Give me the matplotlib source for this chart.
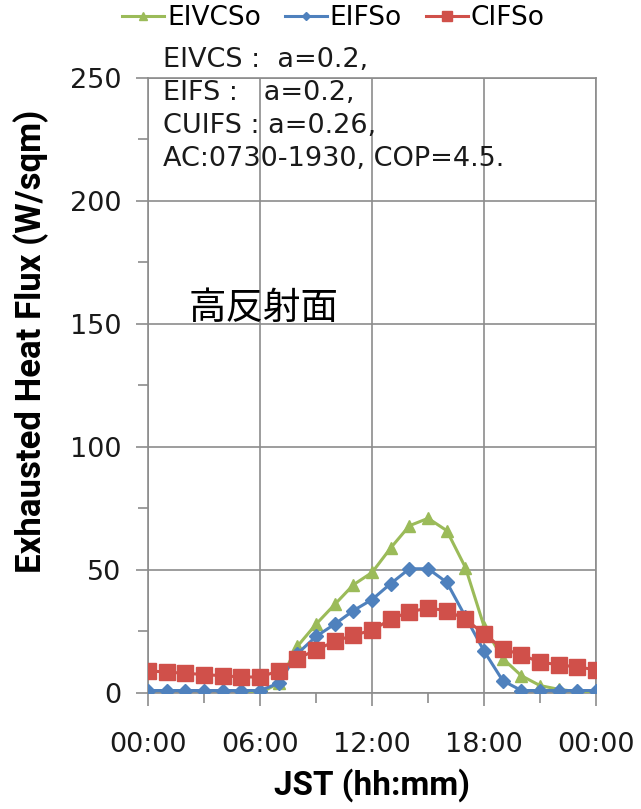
import matplotlib
matplotlib.use("Agg")
import matplotlib.pyplot as plt
from matplotlib.ticker import MultipleLocator

# hourly exhausted heat flux (W/sqm), 00:00 .. 24:00
hours = list(range(25))
eivcso = [-1, -1, -1, -1, -1, -0.5, 0, 4, 19, 28, 36, 44, 49, 59, 68, 71,
          66, 51, 27, 14, 7, 3, 1.5, 0.5, 0]
eifso = [1, 1, 1, 1, 1, 1, 1, 4, 16, 23, 28, 33.5, 38, 44.5, 50.5, 50.5,
         45, 31, 17, 5, 1, 1, 1, 1, 1]
cifso = [9, 8.5, 8, 7.5, 7, 6.5, 6.5, 9, 14, 17.5, 21, 23.5, 25.5, 30, 33,
         34.5, 33.5, 30, 24, 18, 15.5, 12.5, 11.5, 10.5, 9.5]

xtick_pos = [0, 6, 12, 18, 24]
xtick_labels = ["00:00", "06:00", "12:00", "18:00", "00:00"]
notes = ["EIVCS :  a=0.2,", "EIFS :   a=0.2,", "CUIFS : a=0.26,",
         "AC:0730-1930, COP=4.5."]

GREEN = "#9BBB59"
BLUE = "#4F81BD"
RED = "#D0504A"
GRID = "#8C8C8C"
LABEL_FONT = ['Roboto', 'DejaVu Sans']

plt.rcParams['font.family'] = ['DejaVu Sans']

fig = plt.figure(figsize=(6.41, 8.09), dpi=100)
ax = fig.add_axes([0.231, 0.1434, 0.699, 0.7602])

l1, = ax.plot(hours, eivcso, color=GREEN, lw=2.2, marker='^', ms=9,
              label="EIVCSo", zorder=3)
l2, = ax.plot(hours, eifso, color=BLUE, lw=2.2, marker='D', ms=7,
              label="EIFSo", zorder=4)
l3, = ax.plot(hours, cifso, color=RED, lw=2.2, marker='s', ms=11.5,
              label="CIFSo", zorder=5)

ax.set_xlim(0, 24)
ax.set_ylim(0, 250)
ax.set_xticks(xtick_pos)
ax.set_xticklabels(xtick_labels)
ax.xaxis.set_minor_locator(MultipleLocator(3))
ax.yaxis.set_major_locator(MultipleLocator(50))
ax.yaxis.set_minor_locator(MultipleLocator(25))
ax.tick_params(axis='both', which='both', direction='out', color=GRID,
               labelsize=19.5, width=1.2)
ax.tick_params(axis='both', which='major', length=9)
ax.tick_params(axis='both', which='minor', length=7)
ax.tick_params(axis='x', which='major', pad=19)
ax.tick_params(axis='y', which='major', pad=10)
ax.grid(True, which='major', color=GRID, lw=1.2)
ax.set_axisbelow(True)
for s in ax.spines.values():
    s.set_color(GRID)
    s.set_linewidth(1.2)
for lab in ax.get_xticklabels() + ax.get_yticklabels():
    lab.set_color("#1a1a1a")

ax.set_ylabel("Exhausted Heat Flux (W/sqm)", fontsize=25, fontweight='bold',
              family=LABEL_FONT)
ax.yaxis.set_label_coords(-0.222, 0.571)
ax.set_xlabel("JST (hh:mm)", fontsize=24, fontweight='bold',
              family=LABEL_FONT)
ax.xaxis.set_label_coords(0.5, -0.122)

# case notes, stacked above the curves
for i, t in enumerate(notes):
    fig.text(163 / 641, 1 - (60 + 33 * i) / 809, t, fontsize=19.5,
             va='center', ha='left', color="#1a1a1a")

ax.text(0.09, 0.625, "高反射面", transform=ax.transAxes, fontsize=27,
        family=['Noto Sans CJK JP', 'DejaVu Sans'], va='center', ha='left')

fig.legend(handles=[l1, l2, l3], loc='center', ncol=3,
           bbox_to_anchor=(0.52, 1 - 18 / 809), frameon=False, fontsize=19,
           handlelength=1.6, handletextpad=0.1, columnspacing=0.9,
           markerscale=0.6)

fig.savefig("out.png", dpi=100)
